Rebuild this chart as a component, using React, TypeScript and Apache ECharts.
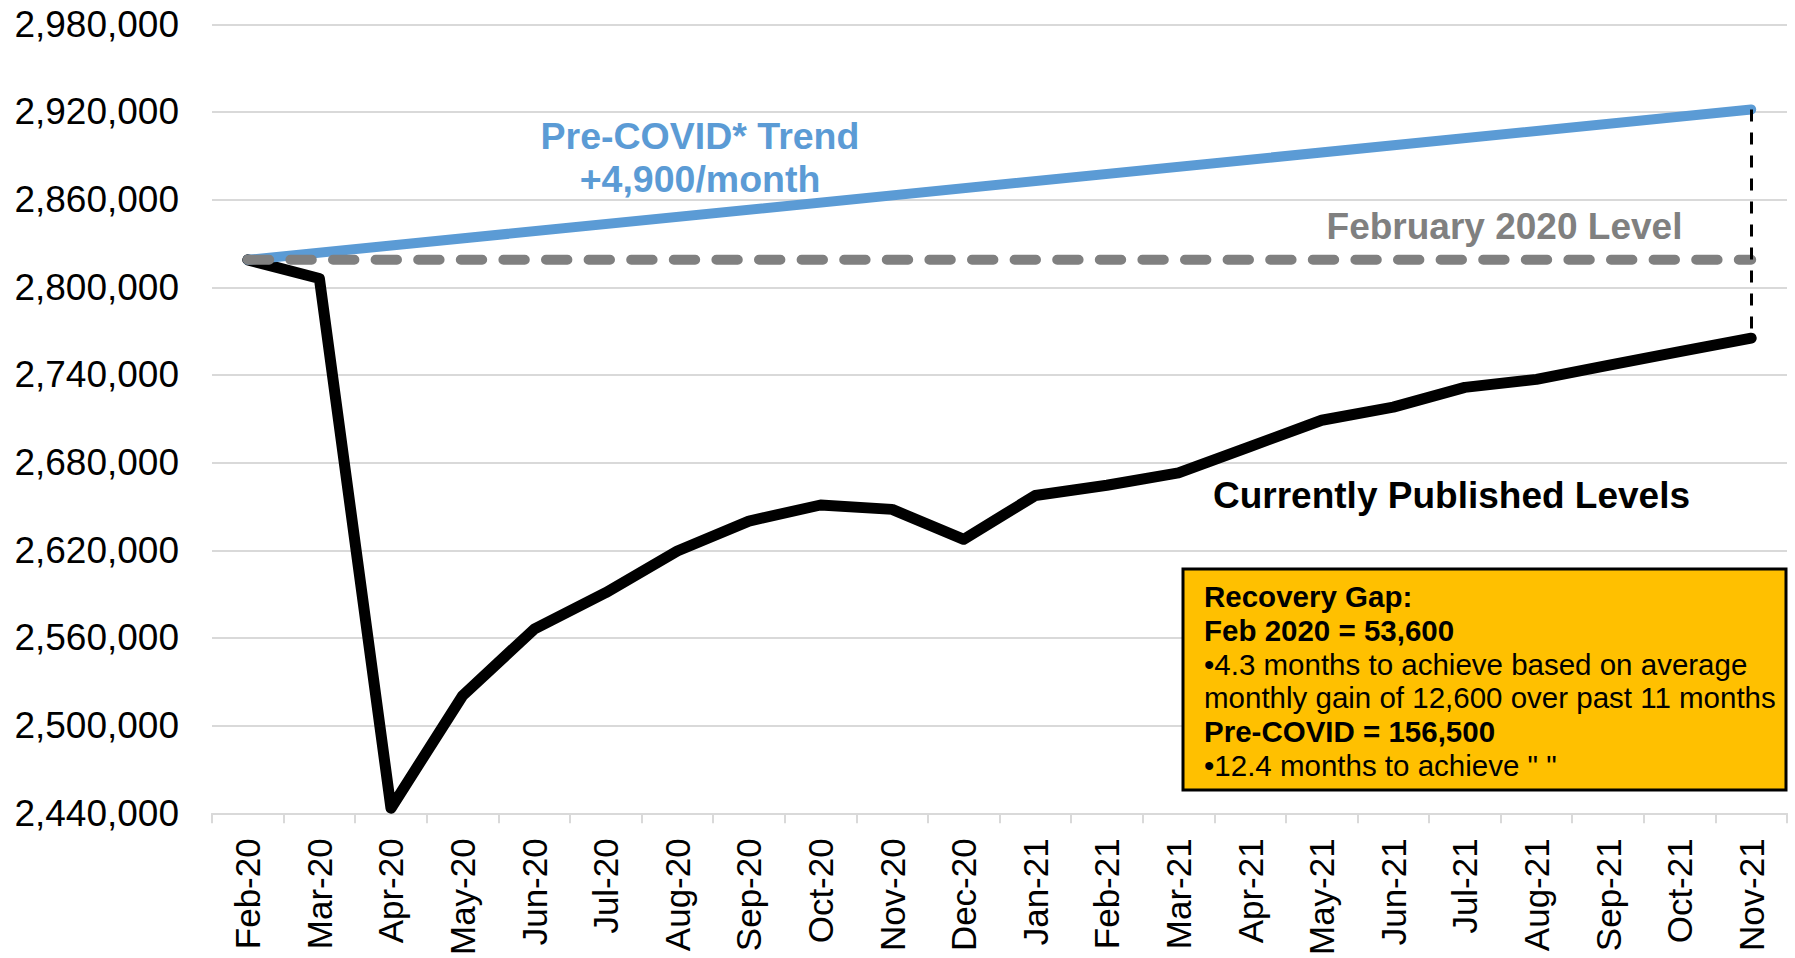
import React, { useEffect, useRef } from "react";
import * as echarts from "echarts";

const months = [
  "Feb-20", "Mar-20", "Apr-20", "May-20", "Jun-20", "Jul-20", "Aug-20", "Sep-20",
  "Oct-20", "Nov-20", "Dec-20", "Jan-21", "Feb-21", "Mar-21", "Apr-21", "May-21",
  "Jun-21", "Jul-21", "Aug-21", "Sep-21", "Oct-21", "Nov-21",
];

const publishedLevels = [
  2818800, 2806000, 2443500, 2520500, 2566000, 2591000, 2619500, 2640000,
  2651000, 2648000, 2627500, 2657500, 2664500, 2673000, 2691000, 2709000,
  2718000, 2731500, 2737000, 2746500, 2756000, 2765200,
];

const trendStart = 2818800;
const trendEnd = 2921700;
const februaryLevel = 2818800;

const yMin = 2440000;
const yMax = 2980000;
const yStep = 60000;

const FONT = "'Liberation Sans', Arial, Helvetica, sans-serif";

export default function App() {
  const ref = useRef<HTMLDivElement>(null);

  useEffect(() => {
    document.body.style.margin = "0";
    if (!ref.current) return;
    const chart = echarts.init(ref.current, null, { renderer: "svg" });
    const last = months.length - 1;
    const off = (v: number | null) => (v === null ? null : v - yMin);

    const trendData = months.map((_, i) =>
      i === 0 ? off(trendStart) : i === last ? off(trendEnd) : null
    );
    const febData = months.map((_, i) =>
      i === 0 || i === last ? off(februaryLevel) : null
    );

    const boxX = 1204;
    const boxLines = [
      { t: "Recovery Gap:", b: true },
      { t: "Feb 2020 = 53,600", b: true },
      { t: "•4.3 months to achieve based on average", b: false },
      { t: "monthly gain of 12,600 over past 11 months", b: false },
      { t: "Pre-COVID = 156,500", b: true },
      { t: "•12.4 months to achieve \" \"", b: false },
    ];

    chart.setOption({
      animation: false,
      grid: { left: 212, right: 8, top: 24.3, bottom: 144, containLabel: false },
      xAxis: {
        type: "category",
        data: months,
        boundaryGap: true,
        axisLine: { show: true, lineStyle: { color: "#D9D9D9", width: 2 } },
        axisTick: {
          show: true,
          interval: 0,
          length: 10,
          lineStyle: { color: "#D9D9D9", width: 2 },
        },
        axisLabel: {
          interval: 0,
          rotate: 90,
          margin: 25,
          color: "#000",
          fontSize: 35,
          fontFamily: FONT,
        },
        splitLine: { show: false },
      },
      yAxis: {
        type: "value",
        min: 0,
        max: yMax - yMin,
        interval: yStep,
        axisLine: { show: false },
        axisTick: { show: false },
        axisLabel: {
          margin: 33,
          color: "#000",
          fontSize: 37,
          fontFamily: FONT,
          formatter: (v: number) => (v + yMin).toLocaleString("en-US"),
        },
        splitLine: { show: true, lineStyle: { color: "#D9D9D9", width: 2 } },
      },
      series: [
        {
          name: "Currently Published Levels",
          type: "line",
          data: publishedLevels.map(off),
          symbol: "none",
          lineStyle: { color: "#000", width: 11, join: "round", cap: "round" },
          z: 2,
        },
        {
          name: "Pre-COVID* Trend",
          type: "line",
          data: trendData,
          connectNulls: true,
          symbol: "none",
          lineStyle: { color: "#5B9BD5", width: 10, cap: "round" },
          z: 3,
        },
        {
          name: "February 2020 Level",
          type: "line",
          data: febData,
          connectNulls: true,
          symbol: "none",
          lineStyle: { color: "#808080", width: 10, type: [21.4, 21.2], cap: "round" },
          z: 4,
          markLine: {
            silent: true,
            symbol: "none",
            label: { show: false },
            lineStyle: { color: "#000", width: 3, type: [12, 11] },
            data: [
              [
                { coord: [months[last], trendEnd - yMin] },
                { coord: [months[last], publishedLevels[last] - yMin] },
              ],
            ],
          },
        },
      ],
      graphic: [
        {
          type: "text",
          x: 700,
          y: 157,
          style: {
            text: "Pre-COVID* Trend\n+4,900/month",
            fill: "#5B9BD5",
            font: `bold 37.5px ${FONT}`,
            lineHeight: 43,
            textAlign: "center",
            textVerticalAlign: "middle",
          },
        },
        {
          type: "text",
          x: 1504.5,
          y: 226,
          style: {
            text: "February 2020 Level",
            fill: "#808080",
            font: `bold 37px ${FONT}`,
            textAlign: "center",
            textVerticalAlign: "middle",
          },
        },
        {
          type: "text",
          x: 1213,
          y: 495.5,
          style: {
            text: "Currently Published Levels",
            fill: "#000",
            font: `bold 37px ${FONT}`,
            textAlign: "left",
            textVerticalAlign: "middle",
          },
        },
        {
          type: "rect",
          shape: { x: 1183, y: 569, width: 603, height: 221 },
          style: { fill: "#FFC000", stroke: "#000", lineWidth: 3 },
          z: 10,
        },
        ...boxLines.map((l, i) => ({
          type: "text",
          x: boxX,
          y: 596.8 + i * 33.7,
          z: 11,
          style: {
            text: l.t,
            fill: "#000",
            font: `${l.b ? "bold " : ""}29.5px ${FONT}`,
            textAlign: "left",
            textVerticalAlign: "middle",
          },
        })),
      ],
    });

    return () => chart.dispose();
  }, []);

  return <div ref={ref} style={{ width: 1795, height: 958 }} />;
}
